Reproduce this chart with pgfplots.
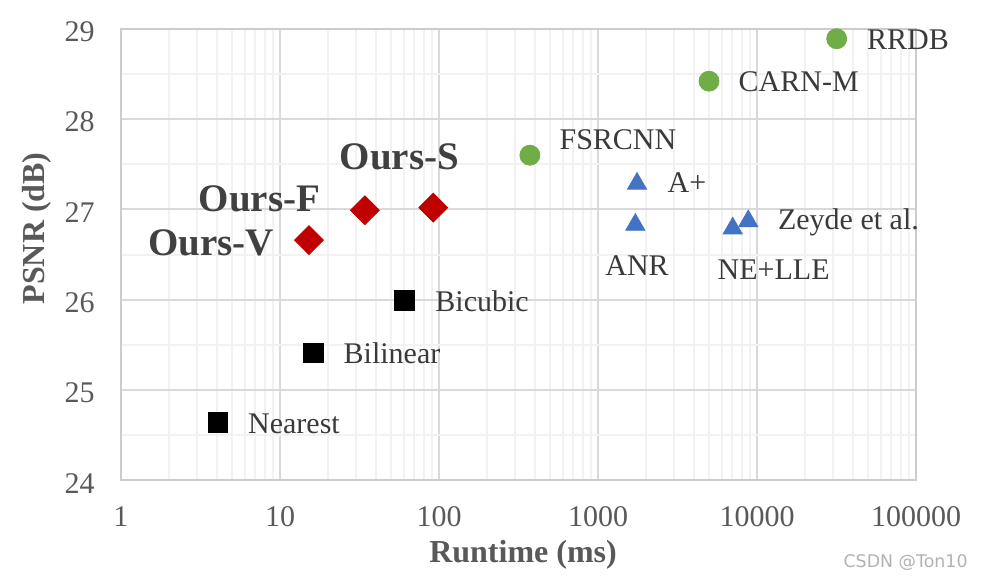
\documentclass[border=0pt]{standalone}
\usepackage{pgfplots}
\pgfplotsset{compat=1.18}
\usepackage{fontspec}
\setmainfont{Liberation Serif}
\newfontfamily\wmfont{DejaVu Sans}

\definecolor{gridmaj}{HTML}{D9D9D9}
\definecolor{gridmin}{HTML}{F2F2F2}
\definecolor{axisc}{HTML}{CCCCCC}
\definecolor{tickc}{HTML}{595959}
\definecolor{lblc}{HTML}{3A3A3A}
\definecolor{oursc}{HTML}{404040}
\definecolor{cgreen}{HTML}{70AD47}
\definecolor{cred}{HTML}{C00000}
\definecolor{cblue}{HTML}{4472C4}

\tikzset{
  lbl/.style={anchor=base west, inner sep=0pt, font=\fontsize{15}{18}\selectfont, text=lblc},
  ours/.style={anchor=base east, inner sep=0pt, font=\bfseries\fontsize{19.5}{23}\selectfont, text=oursc},
}

\begin{document}
\begin{tikzpicture}
\useasboundingbox (-60.5pt,-49pt) rectangle (432pt,240.15pt);
\begin{axis}[
  scale only axis,
  width=397.5pt, height=225.75pt,
  xmode=log,
  xmin=1, xmax=100000, ymin=24, ymax=29,
  xtick={1,10,100,1000,10000,100000},
  xticklabels={1,10,100,1000,10000,100000},
  minor xtick={2,3,4,5,6,7,8,9,20,30,40,50,60,70,80,90,200,300,400,500,600,700,800,900,2000,3000,4000,5000,6000,7000,8000,9000,20000,30000,40000,50000,60000,70000,80000,90000},
  ytick={24,25,26,27,28,29},
  minor ytick={24.5,25.5,26.5,27.5,28.5},
  grid=both,
  major grid style={draw=gridmaj, line width=1pt},
  minor grid style={draw=gridmin, line width=1pt},
  axis line style={draw=axisc, line width=1pt},
  tick style={draw=none},
  /pgf/number format/assume math mode=true,
  ticklabel style={font=\fontsize{15}{18}\selectfont, text=tickc},
  xticklabel style={anchor=base, yshift=-23.3pt},
  yticklabel style={anchor=east, inner sep=0pt, xshift=-13pt, yshift=-1.4pt},
  xlabel={Runtime (ms)},
  ylabel={PSNR (dB)},
  label style={font=\bfseries\fontsize{16}{19}\selectfont, text=tickc},
  xlabel style={at={(axis description cs:0.5057,-0.181)}, anchor=base},
  ylabel style={at={(axis description cs:-0.1057,0.558)}, anchor=center},
  clip=false,
]
% interpolation methods
\addplot[only marks, mark=square*, mark size=4.9pt, color=black] coordinates {
  (4.06,24.64) (16.2,25.41) (60.5,25.995)
};
% classic SR
\addplot[only marks, mark=triangle*, mark size=5.5pt, color=cblue] coordinates {
  (1760,27.285) (1717,26.83) (7035,26.79) (8815,26.87)
};
% CNN methods
\addplot[only marks, mark=*, mark size=5pt, color=cgreen] coordinates {
  (373,27.60) (4990,28.42) (31700,28.89)
};
% ours
\addplot[only marks, mark=square*, mark size=5.1pt, color=cred, mark options={rotate=45}] coordinates {
  (15.2,26.66) (34.2,26.99) (92.1,27.02)
};

\node[lbl, xshift=15pt, yshift=-5.5pt] at (axis cs:31700,28.89) {RRDB};
\node[lbl, xshift=14.65pt, yshift=-5.35pt] at (axis cs:4990,28.42) {CARN-M};
\node[lbl, xshift=14.65pt, yshift=2.65pt] at (axis cs:373,27.60) {FSRCNN};
\node[lbl, xshift=15.15pt, yshift=-4.55pt] at (axis cs:1760,27.285) {A+};
\node[lbl, xshift=14.7pt, yshift=-4.3pt] at (axis cs:8815,26.87) {Zeyde et al.};
\node[lbl, xshift=-15.15pt, yshift=-25.4pt] at (axis cs:1717,26.83) {ANR};
\node[lbl, xshift=-7.7pt, yshift=-25.7pt] at (axis cs:7035,26.79) {NE+LLE};
\node[lbl, xshift=15.35pt, yshift=-5.85pt] at (axis cs:60.5,25.995) {Bicubic};
\node[lbl, xshift=15pt, yshift=-5.3pt] at (axis cs:16.2,25.41) {Bilinear};
\node[lbl, xshift=15pt, yshift=-5.5pt] at (axis cs:4.06,24.64) {Nearest};

\node[ours, anchor=base west, xshift=-47pt, yshift=18.85pt] at (axis cs:92.1,27.02) {Ours-S};
\node[ours, xshift=-22.15pt, yshift=-0.35pt] at (axis cs:34.2,26.99) {Ours-F};
\node[ours, xshift=-17.35pt, yshift=-7.5pt] at (axis cs:15.2,26.66) {Ours-V};
\end{axis}
\node[anchor=base east, inner sep=0pt, font=\wmfont\fontsize{8.7}{10}\selectfont, text=black!30] at (423.5pt,-43.65pt) {CSDN @Ton10};
\end{tikzpicture}
\end{document}
